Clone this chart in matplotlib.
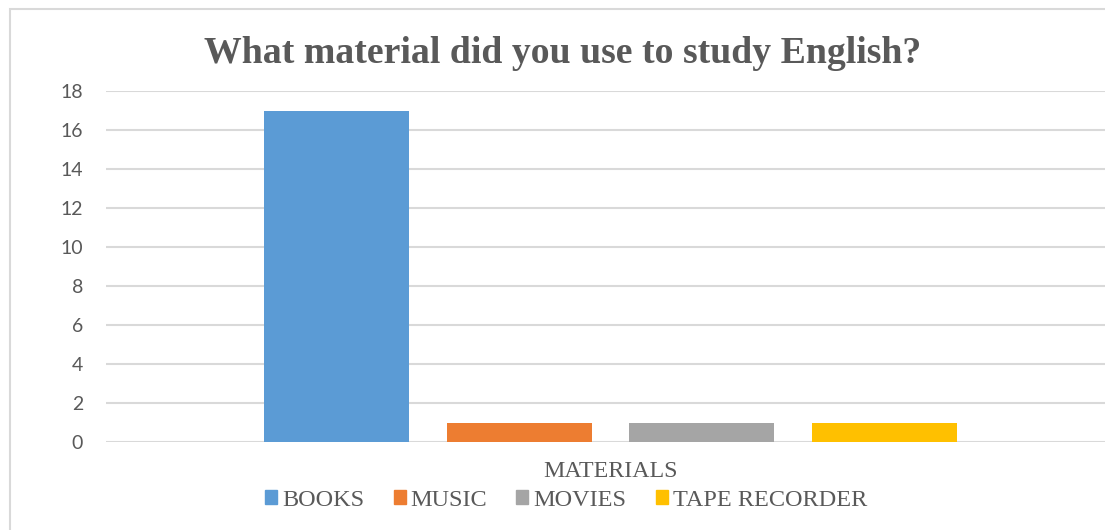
import matplotlib.pyplot as plt
import matplotlib.patches as mpatches
import numpy as np

# data
materials = ["BOOKS", "MUSIC", "MOVIES", "TAPE RECORDER"]
counts = [17, 1, 1, 1]
colors = ["#5B9BD5", "#ED7D31", "#A5A5A5", "#FFC000"]
y_ticks = [0, 2, 4, 6, 8, 10, 12, 14, 16, 18]

TXT = "#595959"
GRID = "#D9D9D9"

fig = plt.figure(figsize=(11.05, 5.30), dpi=100)

# chart frame (runs off the right / bottom edge of the crop)
frame = mpatches.Rectangle((10 / 1105, -0.1), 1.2, 1 - 9 / 530 + 0.1,
                           transform=fig.transFigure, fill=False,
                           edgecolor=GRID, linewidth=1.5)
fig.patches.append(frame)

# plot area: 106px .. 1115px wide, y=0 at 442px, y=18 at 91px
ax = fig.add_axes([106 / 1105, (530 - 442) / 530, (1115 - 106) / 1105, 351 / 530])

x = np.arange(len(materials))
ax.bar(x, counts, width=0.795, color=colors, zorder=3)

ax.set_xlim(-1.263, 4.263)
ax.set_ylim(0, 18)
ax.set_yticks(y_ticks)
ax.set_xticks([])
ax.grid(axis="y", color=GRID, linewidth=1.5, zorder=0)
for s in ax.spines.values():
    s.set_visible(False)
ax.tick_params(axis="y", length=0, pad=16.5, labelsize=14, labelcolor=TXT)
for lab in ax.get_yticklabels():
    lab.set_fontfamily("Lato")

fig.text(562.5 / 1105, 1 - 63 / 530, "What material did you use to study English?",
         ha="center", va="baseline", fontsize=27.2, fontweight="bold",
         family="Liberation Serif", color=TXT)

fig.text(610 / 1105, 1 - 477 / 530, "MATERIALS", ha="center", va="baseline",
         fontsize=17.2, family="Liberation Serif", color=TXT)

handles = [mpatches.Patch(color=c, label=m) for m, c in zip(materials, colors)]
leg = fig.legend(handles=handles, loc="center", bbox_to_anchor=(566 / 1105, 1 - 500 / 530),
                 ncol=4, frameon=False, handlelength=0.5, handleheight=0.5,
                 handletextpad=0.2, columnspacing=1.2,
                 prop={"family": "Liberation Serif", "size": 17.5})
for t in leg.get_texts():
    t.set_color(TXT)

fig.savefig("out.png", dpi=100)
